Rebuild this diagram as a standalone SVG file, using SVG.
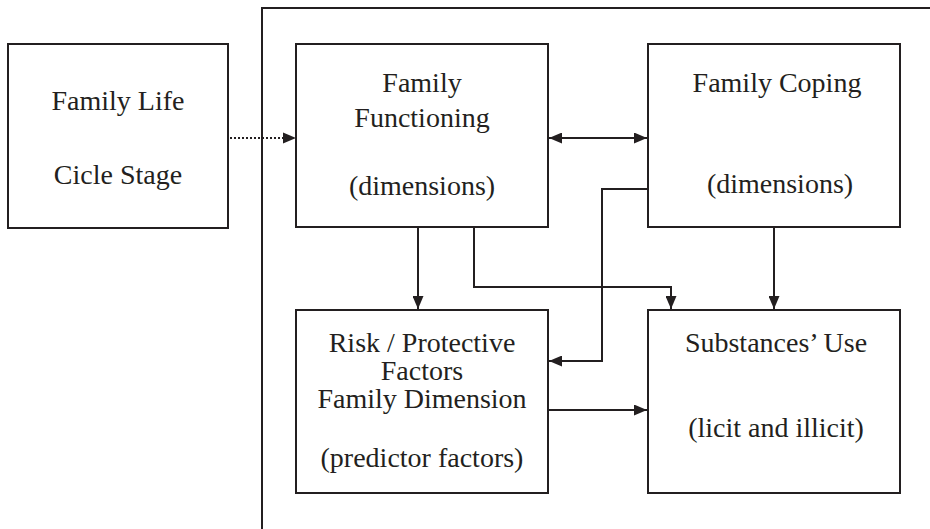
<svg xmlns="http://www.w3.org/2000/svg" width="930" height="529" viewBox="0 0 930 529">
<style>
.box{fill:#fff;stroke:#231f20;stroke-width:2}
.ln{fill:none;stroke:#231f20;stroke-width:2}
.dot{fill:none;stroke:#231f20;stroke-width:2;stroke-dasharray:2 2}
text{font-family:"Liberation Serif","Times New Roman",serif;font-size:28px;fill:#231f20;text-anchor:middle}
</style>
<defs>
<marker id="ah" viewBox="0 0 13 11" refX="13" refY="5.5" markerWidth="13" markerHeight="11" markerUnits="userSpaceOnUse" orient="auto-start-reverse">
<path d="M0,0 L13,5.5 L0,11 Z" fill="#231f20"/>
</marker>
</defs>
<rect width="930" height="529" fill="#fff"/>
<g id="container"><path class="ln" d="M262,529 V8 H930"/></g>
<g id="connectors">
<path class="dot" d="M230,138 H286"/>
<path d="M283,132.5 L296,138 L283,143.5 Z" fill="#231f20"/>
<path class="ln" d="M549,138 H647" marker-start="url(#ah)" marker-end="url(#ah)"/>
<path class="ln" d="M648,189 H602 V361 H549" marker-end="url(#ah)"/>
<path class="ln" d="M418,227 V309" marker-end="url(#ah)"/>
<path class="ln" d="M474,227 V287 H671 V309" marker-end="url(#ah)"/>
<path class="ln" d="M774,227 V309" marker-end="url(#ah)"/>
<path class="ln" d="M548,410 H647" marker-end="url(#ah)"/>
</g>
<g id="life-cycle">
<rect class="box" x="8" y="44" width="220" height="184"/>
<text x="118" y="110">Family Life</text>
<text x="118" y="184">Cicle Stage</text>
</g>
<g id="family-functioning">
<rect class="box" x="296" y="44" width="252" height="183"/>
<text x="422" y="92">Family</text>
<text x="422" y="127">Functioning</text>
<text x="422" y="195">(dimensions)</text>
</g>
<g id="family-coping">
<rect class="box" x="648" y="44" width="252" height="183"/>
<text x="777" y="92">Family Coping</text>
<text x="780" y="193">(dimensions)</text>
</g>
<g id="risk-protective">
<rect class="box" x="296" y="310" width="252" height="183"/>
<text x="422" y="352">Risk / Protective</text>
<text x="422" y="380">Factors</text>
<text x="422" y="408">Family Dimension</text>
<text x="422" y="467">(predictor factors)</text>
</g>
<g id="substances-use">
<rect class="box" x="648" y="310" width="252" height="183"/>
<text x="776" y="352">Substances’ Use</text>
<text x="776" y="437">(licit and illicit)</text>
</g>
</svg>
